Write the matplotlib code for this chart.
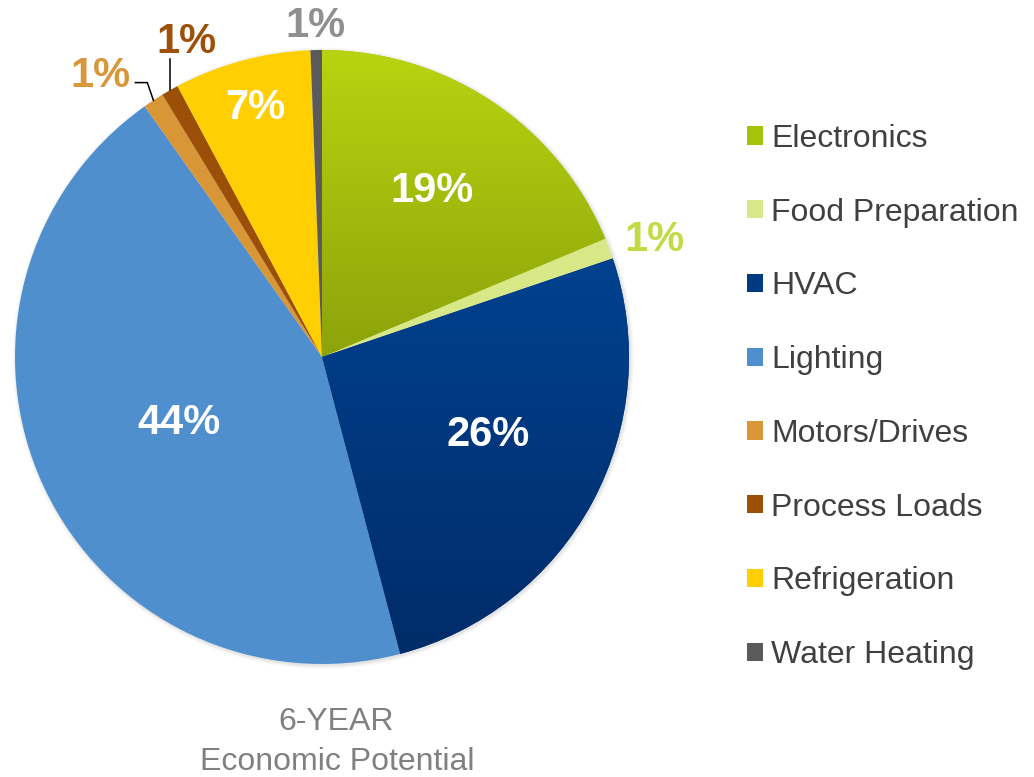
import numpy as np
import matplotlib.pyplot as plt
from matplotlib.patches import Patch, Circle
from matplotlib.colors import LinearSegmentedColormap

plt.rcParams['font.family'] = ['Liberation Sans', 'DejaVu Sans']

CATEGORIES = ["Electronics", "Food Preparation", "HVAC", "Lighting",
              "Motors/Drives", "Process Loads", "Refrigeration", "Water Heating"]
SHARES = [18.7, 1.1, 26.1, 44.3, 1.1, 0.9, 7.2, 0.6]
PCT_LABELS = ["19%", "1%", "26%", "44%", "1%", "1%", "7%", "1%"]

COLORS = ["#a6c20d", "#d8e886", "#003a82", "#4f8fcd",
          "#d99637", "#9b4f07", "#ffcf01", "#5a5a5a"]
# top/bottom colours for the slices drawn with a vertical gradient
GRADIENTS = {"Electronics": ("#b8d410", "#8ca30b"),
             "HVAC": ("#00418f", "#002c69")}
# label placement: radius (pie radius = 1) and angle offset from wedge middle
LABEL_R = [0.657, 1.15, 0.593, 0.51, 1.175, 1.127, 0.85, 1.09]
LABEL_DA = [0.6, -0.8, 4.1, -1.3, 4.6, -6.7, -0.3, 0.0]
LABEL_INSIDE = [True, False, True, True, False, False, True, False]
OUTSIDE_COLORS = {"Food Preparation": "#c3da45", "Motors/Drives": "#d8973a",
                  "Process Loads": "#9c5008", "Water Heating": "#8f8f8f"}

W, H = 1034, 777
CX, CY, R = 322, 357, 307  # pie centre / radius in pixels


def gradient_fill(ax, wedge, top, bottom):
    cmap = LinearSegmentedColormap.from_list("grad", [bottom, top])
    ext = wedge.get_path().get_extents()
    img = ax.imshow(np.linspace(0, 1, 256).reshape(-1, 1), cmap=cmap,
                    extent=(ext.x0, ext.x1, ext.y0, ext.y1), origin="lower",
                    aspect="auto", zorder=wedge.get_zorder() + 0.1)
    img.set_clip_path(wedge)


def main():
    fig = plt.figure(figsize=(W / 100, H / 100), dpi=100)
    lim = 1.25
    ax = fig.add_axes([(CX - lim * R) / W, (H - CY - lim * R) / H,
                       2 * lim * R / W, 2 * lim * R / H])

    wedges, _ = ax.pie(SHARES, colors=COLORS, startangle=90, counterclock=False,
                       radius=1, wedgeprops=dict(linewidth=0))

    # faint shadow round the rim
    for k, a in [(1.012, 0.05), (1.007, 0.07), (1.003, 0.09)]:
        ax.add_patch(Circle((0.004, -0.004), k, color="#808080", alpha=a,
                            lw=0, zorder=0))

    for name, wedge in zip(CATEGORIES, wedges):
        if name in GRADIENTS:
            gradient_fill(ax, wedge, *GRADIENTS[name])

    for i, wedge in enumerate(wedges):
        mid = np.deg2rad((wedge.theta1 + wedge.theta2) / 2)
        ang = mid + np.deg2rad(LABEL_DA[i])
        x, y = LABEL_R[i] * np.cos(ang), LABEL_R[i] * np.sin(ang) - 0.011
        color = "white" if LABEL_INSIDE[i] else OUTSIDE_COLORS[CATEGORIES[i]]
        ax.text(x, y, PCT_LABELS[i], ha="center", va="center", fontsize=30,
                fontweight="bold", color=color, zorder=5)

        # leader lines for the two crowded small slices
        ex, ey = np.cos(mid), np.sin(mid)
        if CATEGORIES[i] == "Motors/Drives":
            px = [ex - 0.059, ex - 0.020, ex]
            py = [ey + 0.058, ey + 0.058, ey]
            ax.plot(px, py, color="black", lw=1.1, zorder=4)
        elif CATEGORIES[i] == "Process Loads":
            ax.plot([ex, ex], [ey, ey + 0.101], color="black", lw=1.1, zorder=4)

    ax.set_xlim(-lim, lim)
    ax.set_ylim(-lim, lim)
    ax.set_aspect("equal")
    ax.axis("off")

    handles = [Patch(facecolor=c, edgecolor="none") for c in COLORS]
    fig.legend(handles, CATEGORIES, loc="center left",
               bbox_to_anchor=(747 / W, 1 - 397 / H), frameon=False,
               fontsize=23, labelcolor="#404040", handlelength=0.5,
               handleheight=0.5, handletextpad=0.25, labelspacing=1.37,
               borderpad=0, borderaxespad=0)

    fig.text(336 / W, 1 - 722 / H, "6-YEAR", ha="center", va="center",
             fontsize=23, color="#808080")
    fig.text(337 / W, 1 - 762 / H, "Economic Potential", ha="center",
             va="center", fontsize=23, color="#808080")

    fig.savefig("out.png", dpi=100)
    plt.close(fig)


if __name__ == "__main__":
    main()
